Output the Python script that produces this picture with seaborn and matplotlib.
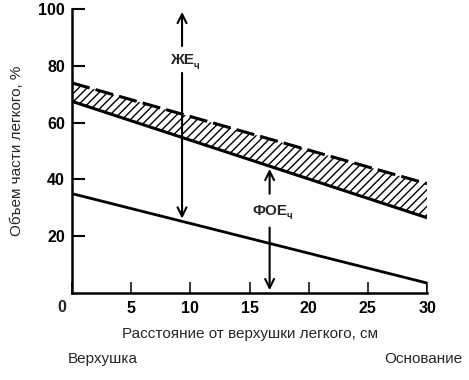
import matplotlib
matplotlib.use("Agg")
import matplotlib.pyplot as plt
import pandas as pd
import seaborn as sns

# data
distance = [0, 30]                 # cm from apex
band_top = [74, 38.5]              # dashed upper edge of hatched band, %
band_bottom = [67.5, 26.5]         # solid lower edge of band, %
lower_line = [35, 3.5]             # lower solid line, %
x_ticks = [0, 5, 10, 15, 20, 25, 30]
y_ticks = [20, 40, 60, 80, 100]
je_x = 9.3                         # ЖЕч arrow position
foe_x = 16.7                       # ФОЕч arrow position

sns.set_style("white", {"xtick.bottom": True, "ytick.left": True,
                        "xtick.direction": "in", "ytick.direction": "in"})
plt.rcParams['font.family'] = ['Liberation Sans', 'DejaVu Sans']
plt.rcParams['xtick.color'] = 'black'
plt.rcParams['ytick.color'] = 'black'

df = pd.DataFrame({"x": distance, "top": band_top, "bottom": band_bottom, "low": lower_line})

fig = plt.figure(figsize=(4.69, 3.80), dpi=100)
ax = fig.add_axes([0.1535, 0.229, 0.757, 0.747])

ax.fill_between(df["x"], df["bottom"], df["top"], facecolor="white", edgecolor="black",
                hatch="////", linewidth=0)
sns.lineplot(data=df, x="x", y="top", ax=ax, color="black", lw=2.2, linestyle=(0, (6, 2)))
sns.lineplot(data=df, x="x", y="bottom", ax=ax, color="black", lw=2.2)
sns.lineplot(data=df, x="x", y="low", ax=ax, color="black", lw=2.0)
# closing edge of the lower line at the base
ax.plot([distance[-1]] * 2, [0, lower_line[-1]], color="black", lw=1.8)

ax.set_xlim(0, 30)
ax.set_ylim(0, 100)
ax.set_xticks(x_ticks)
ax.set_yticks(y_ticks)
ax.set_yticklabels([str(v) for v in y_ticks], fontsize=11.5, fontweight="bold")
ax.set_xticklabels([""] + [str(v) for v in x_ticks[1:]], fontsize=11.5, fontweight="bold")
ax.tick_params(axis="y", left=True, direction="in", length=9, width=1.5, pad=5,
               color="black")
ax.tick_params(axis="x", bottom=True, direction="in", length=8, width=1.1, pad=6,
               color="black")
ax.text(-0.9, -2.3, "0", ha="center", va="top", fontsize=11.5, fontweight="bold")

for s in ["top", "right"]:
    ax.spines[s].set_visible(False)
for s in ["left", "bottom"]:
    ax.spines[s].set_linewidth(1.8)
    ax.spines[s].set_color("black")

ax.set_xlabel("Расстояние от верхушки легкого, см", fontsize=11, labelpad=8)
ax.set_ylabel("Объем части легкого, %", fontsize=11, labelpad=10)

arrow = dict(arrowstyle="->", color="black", lw=1.5, mutation_scale=16)
ax.annotate("", xy=(je_x, 100), xytext=(je_x, 86), arrowprops=arrow)
ax.annotate("", xy=(je_x, 35 - 31.5 * je_x / 30), xytext=(je_x, 78.5), arrowprops=arrow)
ax.text(je_x, 82, "ЖЕ", ha="center", va="center", fontsize=11, fontweight="bold")
ax.text(je_x + 1.0, 80, "ч", ha="left", va="center", fontsize=7, fontweight="bold")

ax.annotate("", xy=(foe_x, 67.5 - 41 * foe_x / 30), xytext=(foe_x, 34), arrowprops=arrow)
ax.annotate("", xy=(foe_x, 0), xytext=(foe_x, 24), arrowprops=arrow)
ax.text(foe_x, 29, "ФОЕ", ha="center", va="center", fontsize=11, fontweight="bold")
ax.text(foe_x + 1.45, 27, "ч", ha="left", va="center", fontsize=7, fontweight="bold")

fig.text(0.145, 0.045, "Верхушка", fontsize=11)
fig.text(0.985, 0.045, "Основание", fontsize=11, ha="right")

fig.savefig("out.png", dpi=100)
